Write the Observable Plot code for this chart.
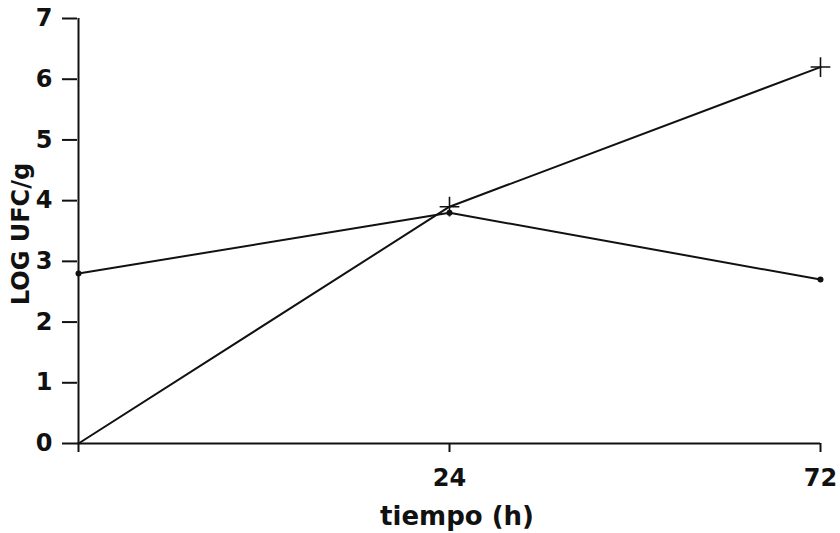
<!DOCTYPE html>
<html>
<head>
<meta charset="utf-8">
<script src="https://cdn.jsdelivr.net/npm/d3@7"></script>
<script src="https://cdn.jsdelivr.net/npm/@observablehq/plot@0.6"></script>
<style>
  html, body { margin: 0; padding: 0; background: #fff; }
  svg text { font-weight: bold; }
</style>
</head>
<body>
<div id="chart"></div>
<script>
const times = ["0", "24", "72"];
const seriesDot = [2.8, 3.8, 2.7];
const seriesPlus = [0, 3.9, 6.2];
const yTicks = [0, 1, 2, 3, 4, 5, 6, 7];
const xLabel = "tiempo (h)";
const yLabel = "LOG UFC/g";

const dataDot = times.map((t, i) => ({t, v: seriesDot[i]}));
const dataPlus = times.map((t, i) => ({t, v: seriesPlus[i]}));

const chart = Plot.plot({
  width: 840,
  height: 533,
  marginLeft: 77,
  marginRight: 20,
  marginTop: 18,
  marginBottom: 90,
  style: {fontFamily: "'DejaVu Sans', sans-serif", background: "#fff", color: "#111"},
  x: {type: "point", domain: times, padding: 0},
  y: {domain: [0, 7]},
  marks: [
    Plot.ruleY([0], {stroke: "#111", strokeWidth: 2}),
    Plot.ruleX([times[0]], {stroke: "#111", strokeWidth: 2}),
    Plot.axisY({ticks: yTicks, tickFormat: "d", tickSize: 15, tickPadding: 10, fontSize: 24, label: null, strokeWidth: 2}),
    Plot.axisX({tickSize: 9, tickPadding: 16, fontSize: 24, label: null, strokeWidth: 2,
      tickFormat: d => d === "0" ? "" : d}),
    Plot.text([xLabel], {frameAnchor: "bottom", textAnchor: "middle", lineAnchor: "middle", dy: 73, dx: 8, fontSize: 26, fill: "#111"}),
    Plot.text([yLabel], {frameAnchor: "left", textAnchor: "middle", lineAnchor: "middle", rotate: -90, dx: -56, dy: 3, fontSize: 24, fill: "#111"}),
    Plot.line(dataDot, {x: "t", y: "v", stroke: "#111", strokeWidth: 2}),
    Plot.line(dataPlus, {x: "t", y: "v", stroke: "#111", strokeWidth: 2}),
    Plot.dot(dataDot, {x: "t", y: "v", r: 3, fill: "#111"}),
    Plot.dot(dataPlus.filter(d => d.t !== times[0]), {x: "t", y: "v", symbol: "plus", r: 6.4, stroke: "#111", strokeWidth: 1.6})
  ]
});
document.getElementById("chart").append(chart);
</script>
</body>
</html>
